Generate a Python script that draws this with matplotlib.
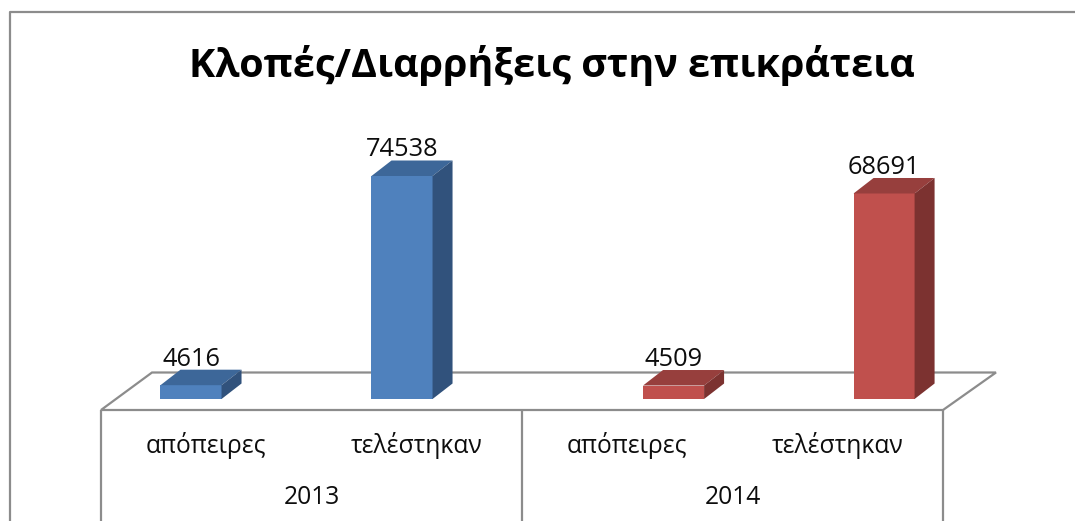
import matplotlib
matplotlib.use("Agg")
import matplotlib.pyplot as plt
from matplotlib.patches import Polygon
from matplotlib.font_manager import FontProperties
from matplotlib.textpath import TextPath
from matplotlib.transforms import blended_transform_factory

# ---------------- data ----------------
title = "Κλοπές/Διαρρήξεις στην επικράτεια"
years = ["2013", "2014"]
categories = ["απόπειρες", "τελέστηκαν", "απόπειρες", "τελέστηκαν"]
values = [4616, 74538, 4509, 68691]

# ---------------- style / layout ----------------
W, H, DPI = 1075, 521, 100
FONT = "Open Sans"
front_cols = ["#4F81BD", "#4F81BD", "#C0504D", "#C0504D"]
top_cols = ["#3D6799", "#3D6799", "#973F3D", "#973F3D"]
side_cols = ["#31527C", "#31527C", "#7C3230", "#7C3230"]
grid_col = "#8C8C8C"

bar_pos = [0.4276, 1.43, 2.72, 3.72]      # front-face centres (axis units)
bar_w = 0.29
depth_px = (20, 15.5)
ymax = 100000


def fit_size(text, target_px, weight="normal"):
    fp = FontProperties(family=FONT, weight=weight)
    w = TextPath((0, 0), text, size=100, prop=fp).get_extents().width
    return target_px * 72.0 / DPI * 100.0 / w


fig = plt.figure(figsize=(W / DPI, H / DPI), dpi=DPI)
fig.patch.set_facecolor("white")

# overlay axes in pixel coordinates for the frame / floor
ov = fig.add_axes([0, 0, 1, 1], zorder=0)
ov.set_xlim(0, W)
ov.set_ylim(H, 0)
ov.axis("off")

lk = dict(color=grid_col, lw=1.6, solid_capstyle="butt")
# chart border (top/left visible)
ov.plot([10, 10, W + 5], [H + 5, 12, 12], **lk)
# floor parallelogram
floor = Polygon([(101, 410), (943, 410), (996, 372.5), (152, 372.5)],
                closed=True, facecolor="white", edgecolor=grid_col, lw=1.6)
ov.add_patch(floor)
# vertical separators of the category axis
for xv in (101, 522, 943):
    ov.plot([xv, xv], [410, H + 5], **lk)

# data axes
ax_left, ax_right = 101, 943
ax_bottom = 399
ax_h = 223 * ymax / 74538.0
ax = fig.add_axes([ax_left / W, (H - ax_bottom) / H,
                   (ax_right - ax_left) / W, ax_h / H], zorder=2)
ax.set_xlim(0, 4)
ax.set_ylim(0, ymax)
ax.patch.set_alpha(0)
ax.axis("off")

ux = (ax_right - ax_left) / 4.0          # px per x unit
uy = ax_h / ymax                          # px per y unit
ddx = depth_px[0] / ux
ddy = depth_px[1] / uy

ax.bar(bar_pos, values, width=bar_w, color=front_cols, linewidth=0, zorder=3)
for x, v, tc, sc in zip(bar_pos, values, top_cols, side_cols):
    x0, x1 = x - bar_w / 2, x + bar_w / 2
    ax.add_patch(Polygon([(x0, v), (x1, v), (x1 + ddx, v + ddy), (x0 + ddx, v + ddy)],
                         closed=True, facecolor=tc, edgecolor="none", zorder=3))
    ax.add_patch(Polygon([(x1, 0), (x1, v), (x1 + ddx, v + ddy), (x1 + ddx, ddy)],
                         closed=True, facecolor=sc, edgecolor="none", zorder=3))

# value labels
num_fs = fit_size("74538", 70)
for x, v in zip(bar_pos, values):
    ax.annotate(f"{v}", xy=(x, v + ddy), xytext=(0, 4), textcoords="offset pixels",
                ha="center", va="baseline", fontsize=num_fs, family=FONT,
                color="#0d0d0d", zorder=5)

# category labels & group labels
cat_fs = fit_size("τελέστηκαν", 130)
tr = blended_transform_factory(ax.transData, fig.transFigure)
for i, c in enumerate(categories):
    ax.text(i + 0.5, (H - 453) / H, c, transform=tr, ha="center", va="baseline",
            fontsize=cat_fs, family=FONT, color="#0d0d0d")
for j, yr in enumerate(years):
    ax.text(2 * j + 1.0, (H - 504) / H, yr, transform=tr, ha="center", va="baseline",
            fontsize=cat_fs, family=FONT, color="#0d0d0d")

# title
t_fs = fit_size(title, 720, weight="bold")
fig.text(552 / W, (H - 77) / H, title, ha="center", va="baseline",
         fontsize=t_fs, family=FONT, weight="bold", color="black")

fig.savefig("out.png", dpi=DPI, facecolor="white")
